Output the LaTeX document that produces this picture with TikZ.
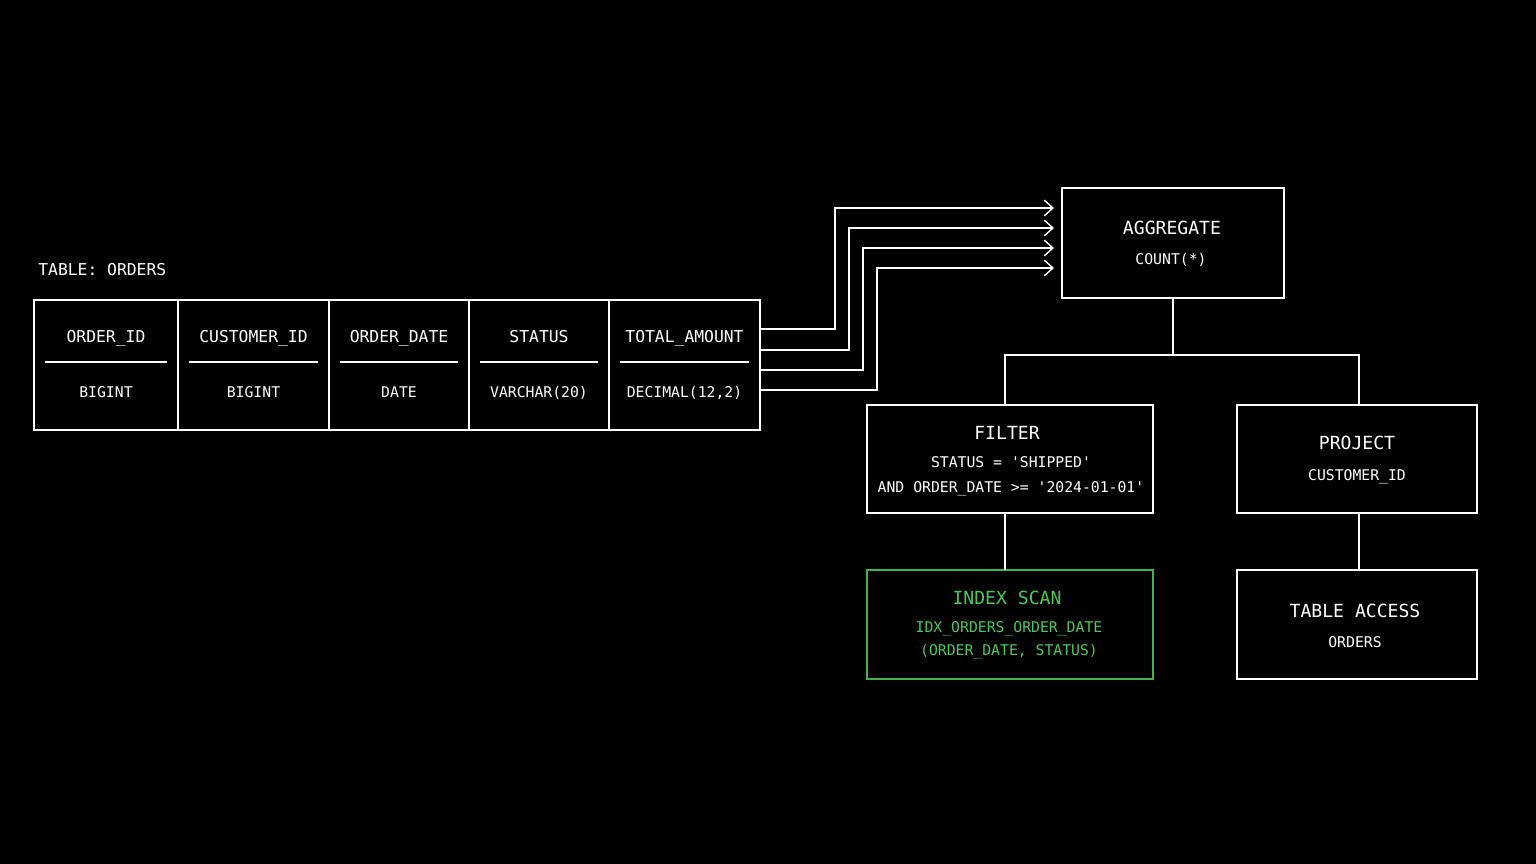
\documentclass[tikz,border=0pt]{standalone}
\usepackage{fontspec}
\setmainfont{DejaVu Sans Mono}
\usetikzlibrary{arrows.meta}
\begin{document}
\begin{tikzpicture}[x=0.02cm,y=-0.02cm,
  box/.style={draw=white,line width=0.9pt},
  wire/.style={draw=white,line width=0.8pt},
  arr/.style={wire,-{Straight Barb[length=5pt,width=9pt]}},
  hd/.style={text=white,font=\fontsize{10.3}{12}\selectfont,inner sep=0pt,text height=1.6ex,text depth=0.4ex},
  th/.style={hd,font=\fontsize{9.3}{11}\selectfont},
  sb/.style={text=white,font=\fontsize{8.4}{10}\selectfont,inner sep=0pt,text height=1.6ex,text depth=0.4ex},
  ghd/.style={hd,text=gtxt},
  gsb/.style={sb,text=gtxt}]
\definecolor{gtxt}{HTML}{4CC95A}
\definecolor{gline}{HTML}{3DB54A}
\fill[black] (0,0) rectangle (1536,864);
\useasboundingbox (0,0) rectangle (1536,864);
% table
\node[th,anchor=west] (tt) at (38,270) {TABLE: ORDERS};
\draw[box] (34,300) rectangle (760,430);
\foreach \x in {178,329,469,609} \draw[wire] (\x,300) -- (\x,430);
\foreach \a/\b/\h/\t/\n in {34/178/ORDER\_ID/BIGINT/c1,178/329/CUSTOMER\_ID/BIGINT/c2,329/469/ORDER\_DATE/DATE/c3,469/609/STATUS/VARCHAR(20)/c4,609/760/TOTAL\_AMOUNT/{DECIMAL(12,2)}/c5}{
  \node[th] (\n h) at ({(\a+\b)/2},337) {\h};
  \draw[wire] (\a+11,362) -- (\b-11,362);
  \node[sb] (\n t) at ({(\a+\b)/2},392) {\t};
}
% nodes
\node[box,minimum width=222*0.02cm,minimum height=110*0.02cm] (agg) at (1173,243) {};
\node[hd] (aggt) at (1172,229) {AGGREGATE};
\node[sb] (aggs) at (1171,259) {COUNT(*)};
\node[box,minimum width=286*0.02cm,minimum height=108*0.02cm] (fil) at (1010,459) {};
\node[hd] (filt) at (1007,434) {FILTER};
\node[sb] (fils) at (1011,462) {STATUS = \textquotesingle SHIPPED\textquotesingle};
\node[sb] (fils2) at (1011,487) {AND ORDER\_DATE >= \textquotesingle 2024-01-01\textquotesingle};
\node[box,minimum width=240*0.02cm,minimum height=108*0.02cm] (prj) at (1357,459) {};
\node[hd] (prjt) at (1357,444) {PROJECT};
\node[sb] (prjs) at (1357,475) {CUSTOMER\_ID};
\node[draw=gline,line width=0.9pt,minimum width=286*0.02cm,minimum height=109*0.02cm] (idx) at (1010,624.5) {};
\node[ghd] (idxt) at (1007,599) {INDEX SCAN};
\node[gsb] (idxs) at (1009,627) {IDX\_ORDERS\_ORDER\_DATE};
\node[gsb] (idxs2) at (1009,650) {(ORDER\_DATE, STATUS)};
\node[box,minimum width=240*0.02cm,minimum height=109*0.02cm] (tac) at (1357,624.5) {};
\node[hd] (tact) at (1355,612) {TABLE ACCESS};
\node[sb] (tacs) at (1355,642) {ORDERS};
% tree wires
\coordinate (j) at (1173,355);
\draw[wire] (agg.south) -- (j);
\draw[wire] (1005,405) |- (j) -| (1359,405);
\draw[wire] (1005,513) -- (1005,570);
\draw[wire] (1359,513) -- (1359,570);
% arrows
\foreach \y/\x/\t in {329/835/208,350/849/228,370/863/248,390/877/268}
  \draw[arr] (760,\y) -- (\x,\y) -- (\x,\t) -- (1054,\t);
\end{tikzpicture}
\end{document}
